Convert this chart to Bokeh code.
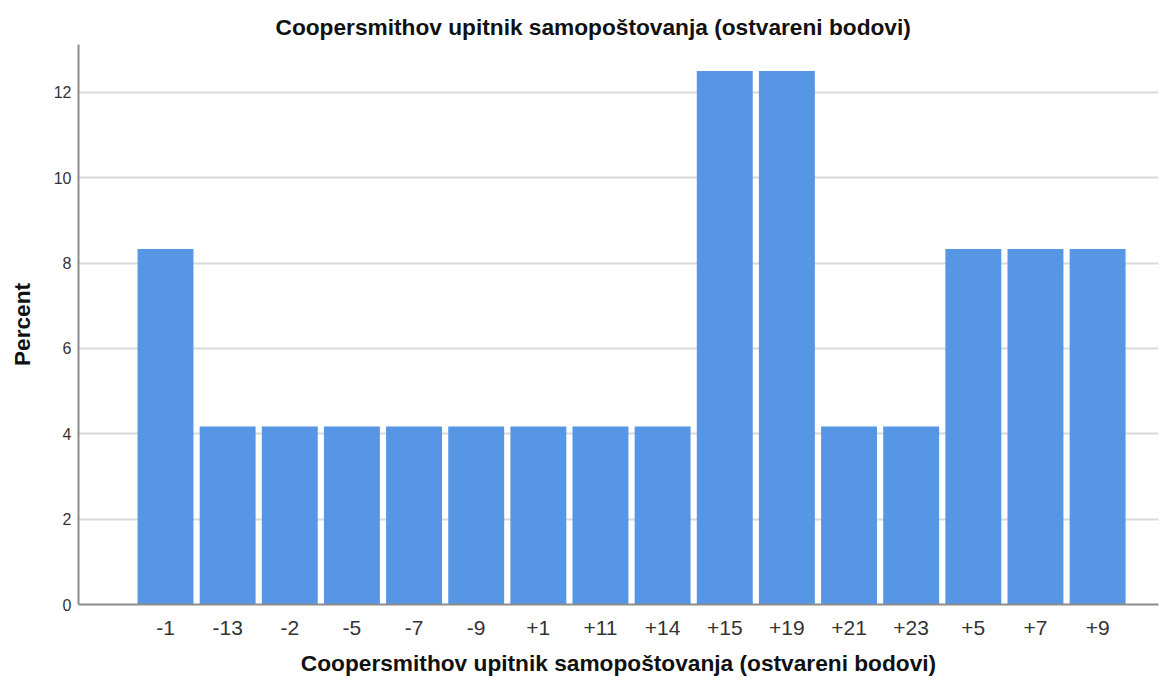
from bokeh.plotting import figure
from bokeh.models import Range1d, FixedTicker, ColumnDataSource
from bokeh.embed import file_html
from bokeh.resources import INLINE

categories = ["-1", "-13", "-2", "-5", "-7", "-9", "+1", "+11", "+14",
              "+15", "+19", "+21", "+23", "+5", "+7", "+9"]
percent = [8.33, 4.17, 4.17, 4.17, 4.17, 4.17, 4.17, 4.17, 4.17,
           12.5, 12.5, 4.17, 4.17, 8.33, 8.33, 8.33]
y_ticks = [0, 2, 4, 6, 8, 10, 12]

title_text = "Coopersmithov upitnik samopoštovanja (ostvareni bodovi)"

pos = list(range(len(categories)))
src = ColumnDataSource(dict(x=pos, top=percent, cat=categories))

p = figure(width=1163, height=678, output_backend="svg", toolbar_location=None,
           x_range=Range1d(-1.40, len(categories) - 1 + 0.98),
           y_range=Range1d(0, 13.12),
           min_border_left=78, min_border_right=5, min_border_top=44,
           min_border_bottom=72)

p.vbar(x="x", top="top", width=0.9, source=src, fill_color="#5795E5",
       line_color=None)

p.title.text = title_text
p.title.align = "left"
p.title.offset = 197
p.title.text_font = "Liberation Sans"
p.title.text_font_style = "bold"
p.title.text_font_size = "22.7px"
p.title.text_color = "#111111"
p.title.text_line_height = 0.7
p.title.standoff = 10

p.outline_line_color = None
p.background_fill_color = "white"
p.border_fill_color = "white"

p.xgrid.grid_line_color = None
p.ygrid.grid_line_color = "#D9D9D9"
p.ygrid.grid_line_width = 2
p.ygrid.ticker = FixedTicker(ticks=y_ticks)

p.xaxis.ticker = FixedTicker(ticks=pos)
p.xaxis.major_label_overrides = {i: c for i, c in enumerate(categories)}
p.yaxis.ticker = FixedTicker(ticks=y_ticks)

for ax in (p.xaxis[0], p.yaxis[0]):
    ax.axis_line_color = "#8C8C8C"
    ax.axis_line_width = 2
    ax.major_tick_line_color = None
    ax.minor_tick_line_color = None
    ax.major_tick_out = 0
    ax.major_tick_in = 0
    ax.minor_tick_out = 0
    ax.minor_tick_in = 0
    ax.major_label_text_font = "Liberation Sans"
    ax.major_label_text_color = "#333333"
    ax.axis_label_text_font = "Liberation Sans"
    ax.axis_label_text_font_style = "bold"
    ax.axis_label_text_font_size = "22.7px"
    ax.axis_label_text_color = "#111111"

p.xaxis.major_label_text_font_size = "21px"
p.xaxis.major_label_standoff = 16
p.xaxis.axis_label = title_text
p.xaxis.axis_label_standoff = 12

p.yaxis.major_label_text_font_size = "16px"
p.yaxis.major_label_standoff = 7
p.yaxis.axis_label = "Percent"
p.yaxis.axis_label_standoff = 16

open("out.html", "w").write(file_html(p, INLINE))
